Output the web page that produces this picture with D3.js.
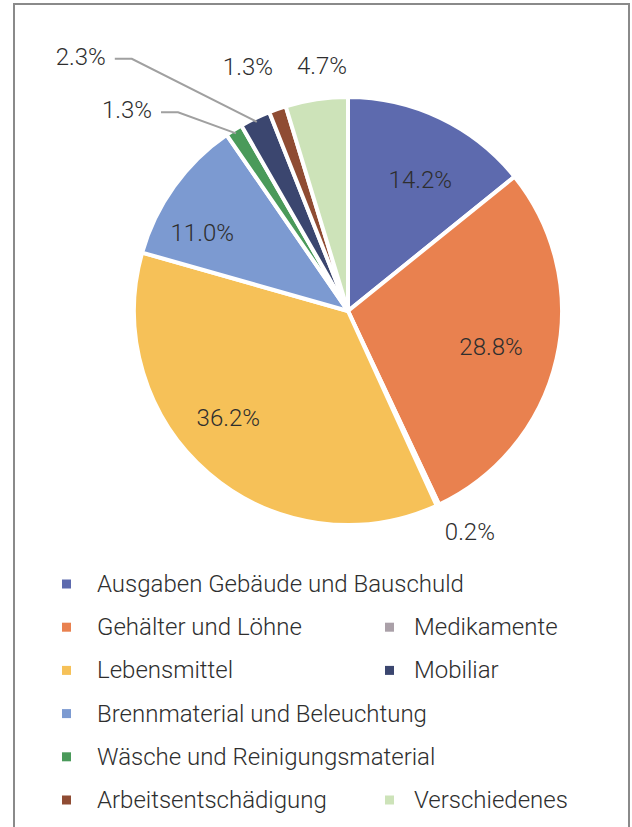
<!DOCTYPE html>
<html>
<head>
<meta charset="utf-8">
<script src="https://cdn.jsdelivr.net/npm/d3@7"></script>
<style>
  body { margin: 0; background: #fff; }
  svg text { font-family: 'Roboto', 'Liberation Sans', sans-serif; font-weight: 300; fill: #2e2e2e; }
</style>
</head>
<body>
<svg id="chart" width="632" height="827"></svg>
<script>
// data, clockwise from 12 o'clock
const categories = [
    'Ausgaben Gebäude und Bauschuld',
    'Gehälter und Löhne',
    'Medikamente',
    'Lebensmittel',
    'Brennmaterial und Beleuchtung',
    'Wäsche und Reinigungsmaterial',
    'Mobiliar',
    'Arbeitsentschädigung',
    'Verschiedenes'
];
const shares = [14.2, 28.8, 0.2, 36.2, 11.0, 1.3, 2.3, 1.3, 4.7];
const colors = ['#5d6aae', '#e9814f', '#aaa0a8', '#f6c158', '#7c9ad1', '#4a9a5a', '#3b466f', '#8f4c33', '#cde3b9'];
// legend grid slot per category
const legendRow = [0, 1, 1, 2, 3, 4, 2, 5, 5];
const legendCol = [0, 0, 1, 0, 0, 0, 1, 0, 1];
// how each value label is placed
const labelMode = ['inside', 'inside', 'outside', 'inside', 'inside', 'leader', 'leader', 'outside', 'outside'];

const svg = d3.select('#chart');

// frame
svg.append('path')
    .attr('d', 'M14,827 V4 H629 V827')
    .attr('fill', 'none')
    .attr('stroke', '#8a8a8a')
    .attr('stroke-width', 2);

const cx = 348, cy = 311, r = 214;

const pie = d3.pie().sort(null).value(d => d.value);
const data = categories.map((c, i) => ({ name: c, value: shares[i], color: colors[i], mode: labelMode[i] }));
const arcs = pie(data);

const arc = d3.arc().innerRadius(0).outerRadius(r);
const inLabel = d3.arc().innerRadius(156).outerRadius(156);
const outLabel = d3.arc().innerRadius(252).outerRadius(252);
const edge = d3.arc().innerRadius(r - 4).outerRadius(r - 4);

// hand tweaks so labels sit where the print has them
const nudge = [[5, 10], [-9, 1], [16, -8], [-18, -11], [-19, 13], null, null, [-17, -6], [11, 4]];

const g = svg.append('g').attr('transform', 'translate(' + cx + ',' + cy + ')');

g.selectAll('path.slice')
    .data(arcs)
    .enter().append('path')
    .attr('class', 'slice')
    .attr('d', arc)
    .attr('fill', d => d.data.color)
    .attr('stroke', '#fff')
    .attr('stroke-width', 4)
    .attr('stroke-linejoin', 'round');

const fmt = v => v.toFixed(1) + '%';

g.selectAll('text.val')
    .data(arcs.filter(d => d.data.mode !== 'leader'))
    .enter().append('text')
    .attr('class', 'val')
    .attr('transform', d => {
        const p = (d.data.mode === 'inside' ? inLabel : outLabel).centroid(d);
        const n = nudge[d.index];
        return 'translate(' + (p[0] + n[0]) + ',' + (p[1] + n[1]) + ')';
    })
    .attr('text-anchor', 'middle')
    .attr('dominant-baseline', 'central')
    .attr('font-size', 24)
    .text(d => fmt(d.data.value));

// leader labels: offset of the elbow from the slice edge
const leaderOffset = { 'Wäsche und Reinigungsmaterial': [-58, -21], 'Mobiliar': [-125, -63] };
const leaders = arcs.filter(d => d.data.mode === 'leader');

leaders.forEach(d => {
    const p = edge.centroid(d);
    const off = leaderOffset[d.data.name];
    const elbow = [p[0] + off[0], p[1] + off[1]];
    const start = [elbow[0] - 17, elbow[1]];
    g.append('path')
        .attr('d', d3.line()([start, elbow, p]))
        .attr('fill', 'none')
        .attr('stroke', '#a0a0a0')
        .attr('stroke-width', 2);
    g.append('text')
        .attr('x', start[0] - 9)
        .attr('y', start[1] - 2)
        .attr('text-anchor', 'end')
        .attr('dominant-baseline', 'central')
        .attr('font-size', 24)
        .text(fmt(d.data.value));
});

// legend
const legend = svg.append('g');
const colX = [62, 385], textX = [97, 414];
const rowY = d3.scaleLinear().domain([0, 5]).range([584, 800]);

const items = legend.selectAll('g.item')
    .data(data)
    .enter().append('g')
    .attr('class', 'item');

items.append('rect')
    .attr('x', (d, i) => colX[legendCol[i]])
    .attr('y', (d, i) => rowY(legendRow[i]) - 4.5)
    .attr('width', 9)
    .attr('height', 9)
    .attr('fill', d => d.color);

items.append('text')
    .attr('x', (d, i) => textX[legendCol[i]])
    .attr('y', (d, i) => rowY(legendRow[i]))
    .attr('dominant-baseline', 'central')
    .attr('font-size', 24)
    .text(d => d.name);
</script>
</body>
</html>
